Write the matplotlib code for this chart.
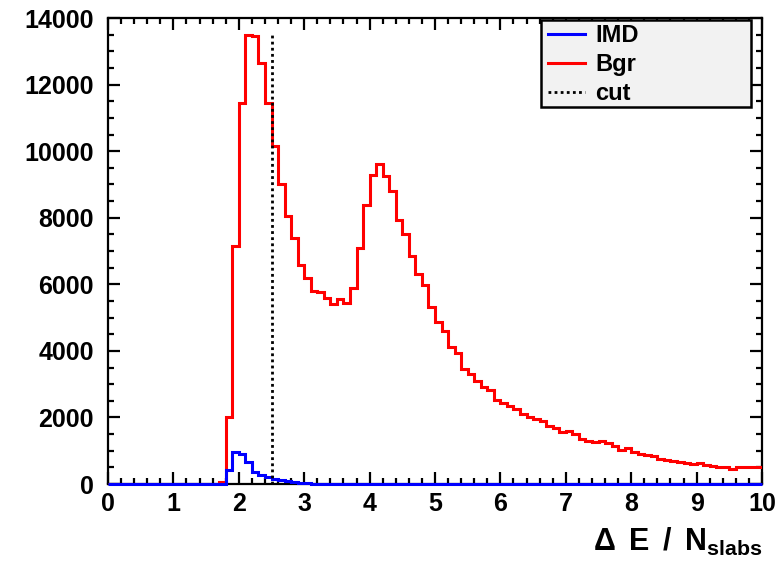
import numpy as np
import matplotlib
matplotlib.use("Agg")
import matplotlib.pyplot as plt
from matplotlib.lines import Line2D
from matplotlib.patches import Rectangle

plt.rcParams['font.family'] = ['Liberation Sans', 'DejaVu Sans']
plt.rcParams['font.weight'] = 'bold'
plt.rcParams['mathtext.fontset'] = 'custom'
plt.rcParams['mathtext.rm'] = 'Liberation Sans:bold'
plt.rcParams['mathtext.bf'] = 'Liberation Sans:bold'
plt.rcParams['mathtext.it'] = 'Liberation Sans:bold'

# histogram range: 100 bins over 0..10
x_min, x_max, n_bins = 0.0, 10.0, 100
cut_value = 2.5

# background counts per bin
bgr_counts = [0] * 17 + [
    50, 2000, 7150, 11450, 13500, 13450, 12650, 11450, 10150, 9020,
    8040, 7400, 6570, 6180, 5800, 5780, 5600, 5420, 5550, 5450,
    5880, 7100, 8370, 9290, 9600, 9240, 8790, 7920, 7520, 6860,
    6320, 5980, 5330, 4880, 4590, 4110, 3950, 3450, 3300, 3100,
    2900, 2830, 2530, 2430, 2330, 2250, 2100, 2000, 1950, 1880,
    1730, 1680, 1550, 1580, 1500, 1350, 1300, 1250, 1280, 1230,
    1150, 1030, 1070, 970, 900, 870, 850, 750, 730, 700,
    670, 630, 600, 630, 570, 550, 500, 500, 450, 500,
    500, 520, 520,
]

# IMD signal counts per bin
imd_counts = [0] * 18 + [
    420, 960, 900, 650, 370, 270, 210, 160, 120, 90,
    60, 40, 25, 15,
] + [0] * 68

edges = np.linspace(x_min, x_max, n_bins + 1)

fig = plt.figure(figsize=(7.8, 5.64), dpi=100)
ax = fig.add_axes([108 / 780, 1 - 484 / 564, 654 / 780, 466 / 564])

ax.stairs(bgr_counts, edges, color='#ff0000', lw=2.2, baseline=None, zorder=3)
ax.stairs(imd_counts, edges, color='#0000ff', lw=2.2, baseline=None, zorder=4,
          clip_on=False)
dotted = (0, (1.0, 1.2))
ax.vlines(cut_value, 0, max(bgr_counts), colors='black', lw=2.0,
          linestyles=[dotted], zorder=5)

ax.set_xlim(x_min, x_max)
ax.set_ylim(0, 14000)
ax.set_xticks(np.arange(0, 11, 1))
ax.set_xticks(np.arange(0, 10.01, 0.2), minor=True)
ax.set_yticks(np.arange(0, 14001, 2000))
ax.set_yticks(np.arange(0, 14001, 500), minor=True)
ax.tick_params(which='both', direction='in', top=True, right=True, width=1.6,
               labelsize=18)
ax.tick_params(which='major', length=8.5)
ax.tick_params(which='minor', length=4.3)
ax.tick_params(axis='x', pad=6)
ax.tick_params(axis='y', pad=10)
for sp in ax.spines.values():
    sp.set_linewidth(1.6)

fig.text(762 / 780, 1 - 542 / 564, r'$\Delta\ \,E\ \,/\ \,N_{slabs}$',
         ha='right', va='center', fontsize=22)

# legend box drawn separately so it can be wider than its entries
box = Rectangle((0.662, 0.809), 0.321, 0.187, transform=ax.transAxes,
                facecolor='#f2f2f2', edgecolor='black', lw=1.8, zorder=9)
ax.add_patch(box)

handles = [
    Line2D([], [], color='#0000ff', lw=2.2),
    Line2D([], [], color='#ff0000', lw=2.2),
    Line2D([], [], color='black', lw=2.0, linestyle=dotted),
]
leg = ax.legend(handles, ['IMD', 'Bgr', 'cut'], loc='upper left',
                bbox_to_anchor=(0.673, 0.987), frameon=False, fontsize=17,
                borderpad=0, labelspacing=0.25, handlelength=1.57,
                handletextpad=0.42, borderaxespad=0)
leg.set_zorder(10)

fig.savefig('out.png', dpi=100)
